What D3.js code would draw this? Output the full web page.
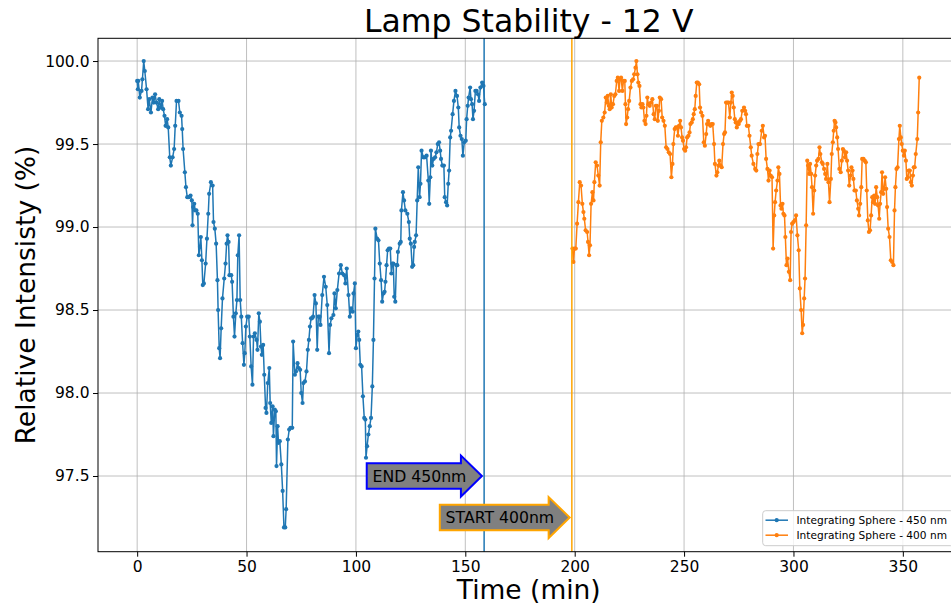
<!DOCTYPE html>
<html>
<head>
<meta charset="utf-8">
<script src="https://cdn.jsdelivr.net/npm/d3@7"></script>
<style>
  html, body { margin: 0; padding: 0; background: #fff; overflow: hidden; }
  svg { display: block; font-family: "DejaVu Sans", sans-serif; }
</style>
</head>
<body>
<svg id="chart" width="951" height="605"></svg>
<script>
// Integrating sphere, 450 nm run: time (min) and relative intensity (%)
const blueTime = [0.0,0.3,0.5,1.2,2.0,2.4,3.0,3.5,4.3,5.0,5.5,6.3,7.0,7.6,8.2,8.8,9.6,10.1,10.7,11.4,11.9,12.5,13.0,13.7,14.2,14.9,15.4,16.2,16.9,17.4,18.0,18.9,19.5,20.3,20.6,21.0,21.8,22.3,22.9,23.6,24.4,25.0,25.3,25.6,26.1,26.5,27.1,27.7,28.2,28.7,29.1,29.6,30.0,30.5,31.3,31.9,32.5,32.9,33.7,34.5,34.9,35.5,36.1,36.7,37.0,37.5,37.9,38.4,39.0,39.8,40.4,40.9,41.3,41.8,42.2,43.0,43.4,44.0,44.5,45.1,45.6,46.0,46.6,47.1,47.6,48.2,48.8,49.2,49.7,50.3,51.0,51.5,52.1,52.7,53.2,53.8,54.6,55.0,55.6,56.1,56.6,57.0,57.6,58.1,58.7,59.1,59.7,60.4,60.8,61.3,61.9,62.3,62.9,63.4,63.7,64.2,64.6,65.2,65.9,66.5,67.1,67.7,68.1,68.9,69.5,70.1,70.9,71.3,72.1,72.6,73.3,73.9,74.5,75.0,75.6,76.0,76.7,77.4,78.0,78.5,79.0,79.5,79.9,80.4,81.1,81.7,82.3,82.8,83.4,83.8,84.6,85.4,86.2,86.9,87.7,88.2,88.8,89.7,90.2,90.8,91.5,92.3,93.1,93.8,94.6,95.2,95.8,96.6,97.2,97.8,98.5,98.9,99.5,100.0,100.6,101.1,101.5,102.0,102.6,103.2,103.8,104.3,104.6,105.1,105.7,106.3,106.9,107.5,108.0,108.5,108.9,109.7,110.3,110.9,111.5,112.0,112.6,113.1,113.5,114.0,114.5,115.1,115.7,116.2,116.6,117.1,117.5,118.0,118.5,118.9,119.2,120.0,120.5,120.8,121.5,122.0,122.6,123.5,124.2,124.6,125.1,125.7,126.2,126.6,126.9,127.5,128.0,128.5,129.1,129.5,130.0,130.8,131.5,132.3,133.1,133.5,134.0,134.3,134.9,135.5,136.2,136.8,137.4,138.0,138.5,138.9,139.5,140.2,140.6,141.2,141.7,142.2,142.6,143.1,143.5,144.2,144.8,145.5,146.2,146.8,147.2,147.8,148.4,148.9,149.5,150.2,150.6,151.1,151.5,152.2,152.6,153.1,153.5,154.0,154.6,155.2,155.8,156.3,156.9,157.7,158.3,158.9];
const blueIntensity = [99.88,99.83,99.88,99.78,99.82,99.89,100.00,99.94,99.83,99.71,99.77,99.69,99.78,99.75,99.80,99.75,99.71,99.77,99.72,99.76,99.71,99.67,99.61,99.65,99.60,99.42,99.37,99.42,99.47,99.61,99.76,99.76,99.69,99.67,99.59,99.47,99.33,99.24,99.18,99.18,99.19,99.16,99.01,99.12,99.14,99.10,99.10,99.08,98.83,98.88,98.94,98.80,98.65,98.66,98.78,98.93,99.08,99.20,99.27,99.25,99.03,98.99,98.90,98.68,98.50,98.27,98.21,98.39,98.57,98.69,98.78,98.90,98.95,98.91,98.71,98.71,98.67,98.46,98.34,98.48,98.56,98.83,98.95,98.56,98.46,98.30,98.17,98.24,98.40,98.46,98.46,98.34,98.16,98.05,98.34,98.36,98.32,98.26,98.48,98.43,98.28,98.23,98.29,98.11,97.91,97.88,98.06,98.15,97.94,97.82,97.92,97.74,97.90,97.89,97.56,97.80,97.70,97.71,97.57,97.41,97.19,97.19,97.30,97.72,97.78,97.79,97.79,98.31,98.11,98.13,98.18,98.15,98.14,98.00,97.94,98.06,98.07,98.13,98.26,98.32,98.40,98.45,98.45,98.46,98.59,98.54,98.26,98.46,98.46,98.41,98.59,98.70,98.64,98.53,98.24,98.41,98.45,98.47,98.60,98.51,98.62,98.72,98.77,98.72,98.71,98.66,98.75,98.59,98.46,98.51,98.49,98.60,98.66,98.27,98.35,98.37,98.32,98.17,98.16,97.98,97.85,97.84,97.61,97.68,97.75,97.80,97.85,98.04,98.32,98.69,98.99,98.93,98.92,98.78,98.68,98.55,98.60,98.61,98.67,98.77,98.86,98.87,98.87,98.72,98.78,98.78,98.58,98.55,98.77,98.77,98.85,98.90,98.91,99.10,99.21,99.16,99.10,99.08,99.03,98.93,98.90,98.76,98.77,98.88,98.91,98.95,99.16,99.36,99.18,99.26,99.46,99.42,99.42,99.43,99.28,99.14,99.30,99.46,99.37,99.41,99.42,99.45,99.50,99.51,99.46,99.41,99.37,99.37,99.18,99.15,99.13,99.26,99.34,99.54,99.58,99.68,99.76,99.82,99.79,99.72,99.60,99.55,99.53,99.43,99.51,99.52,99.65,99.73,99.78,99.84,99.77,99.74,99.65,99.70,99.82,99.82,99.80,99.76,99.84,99.87,99.85,99.74];

// Integrating sphere, 400 nm run
const orangeTime = [199.0,199.4,199.9,200.5,201.1,201.7,202.3,202.9,203.5,204.0,204.4,205.0,205.7,206.1,206.6,207.0,207.5,208.1,208.6,209.0,209.6,210.2,210.8,211.4,211.9,212.4,213.1,213.7,214.2,214.7,215.1,215.6,216.0,216.5,216.9,217.5,218.1,218.6,219.2,219.7,220.3,220.7,221.2,221.8,222.3,222.9,223.2,223.5,224.0,224.4,224.9,225.5,226.1,226.7,227.2,227.8,228.2,228.7,229.1,229.6,230.1,230.5,231.0,231.4,231.9,232.4,232.8,233.2,233.7,234.3,234.9,235.5,236.1,236.6,237.1,237.6,238.0,238.5,238.9,239.5,240.0,240.6,241.2,241.8,242.4,243.0,243.6,244.2,244.7,245.1,245.7,246.2,246.8,247.2,247.7,248.2,248.6,249.1,249.5,250.0,250.5,250.9,251.4,252.0,252.5,252.9,253.5,254.0,254.4,254.9,255.3,255.8,256.3,256.9,257.3,257.8,258.4,259.0,259.5,260.1,260.5,261.0,261.4,262.0,262.6,263.1,263.7,264.1,264.8,265.2,265.7,266.1,266.7,267.2,267.8,268.3,268.7,269.2,269.8,270.3,270.9,271.4,271.8,272.2,272.7,273.2,273.6,274.1,274.5,275.0,275.6,276.0,276.6,277.4,277.9,278.3,278.7,279.4,279.9,280.5,280.9,281.7,282.5,283.0,283.5,284.0,284.7,285.5,286.0,286.6,287.0,287.5,288.1,288.6,289.1,289.6,290.2,290.7,291.2,291.6,292.1,292.7,293.1,293.6,294.1,294.5,295.0,295.4,295.9,296.3,296.8,297.3,297.9,298.5,298.9,299.4,300.0,300.6,301.2,301.8,302.4,302.9,303.5,304.0,304.4,304.9,305.3,305.8,306.3,306.7,307.2,307.6,308.1,308.5,309.0,309.5,309.9,310.4,310.8,311.4,311.9,312.3,313.0,313.4,314.0,314.5,314.9,315.5,316.0,316.5,317.1,317.5,318.0,318.4,318.8,319.2,319.5,320.0,320.4,321.0,321.6,322.1,322.6,323.0,323.5,324.1,324.5,325.0,325.5,326.1,326.5,327.0,327.4,327.9,328.5,329.0,329.6,330.0,330.5,331.0,331.4,332.0,332.6,333.1,333.5,334.0,334.5,335.0,335.5,336.0,336.4,336.9,337.3,337.8,338.3,338.7,339.2,339.6,340.1,340.5,341.0,341.4,341.9,342.4,342.8,343.3,343.9,344.5,345.1,345.7,346.2,346.6,347.1,347.6,348.2,348.6,349.1,349.5,350.0,350.5,350.9,351.4,351.8,352.3,352.7,353.2,353.7,354.1,354.6,355.0,355.4,355.9,356.6,357.0,357.5];
const orangeIntensity = [98.87,98.79,98.87,98.87,99.02,99.15,99.27,99.25,99.14,99.09,99.05,98.98,98.97,98.91,98.83,98.89,99.14,99.21,99.16,99.27,99.39,99.37,99.31,99.25,99.51,99.64,99.66,99.69,99.78,99.75,99.79,99.73,99.71,99.80,99.72,99.74,99.79,99.80,99.88,99.90,99.82,99.89,99.90,99.82,99.88,99.88,99.74,99.62,99.66,99.71,99.76,99.84,99.88,99.89,99.92,99.96,100.00,99.92,99.87,99.85,99.74,99.72,99.74,99.72,99.64,99.62,99.67,99.78,99.74,99.73,99.75,99.77,99.68,99.65,99.73,99.73,99.64,99.70,99.78,99.77,99.66,99.64,99.61,99.48,99.47,99.45,99.44,99.30,99.38,99.50,99.59,99.60,99.60,99.55,99.61,99.64,99.60,99.54,99.52,99.47,99.46,99.48,99.54,99.55,99.57,99.62,99.63,99.65,99.68,99.71,99.79,99.87,99.87,99.86,99.72,99.69,99.67,99.51,99.49,99.56,99.62,99.64,99.62,99.61,99.62,99.62,99.50,99.38,99.31,99.33,99.37,99.40,99.37,99.36,99.50,99.56,99.57,99.75,99.75,99.75,99.66,99.75,99.81,99.79,99.72,99.65,99.63,99.60,99.63,99.62,99.64,99.65,99.70,99.72,99.70,99.68,99.61,99.61,99.55,99.48,99.43,99.38,99.35,99.34,99.44,99.50,99.50,99.58,99.61,99.54,99.55,99.41,99.35,99.28,99.34,99.31,99.30,98.87,99.07,99.15,99.22,99.28,99.36,99.32,99.13,99.11,99.14,99.08,99.07,98.94,98.77,98.81,98.73,98.68,98.97,99.02,99.03,99.04,99.07,98.95,98.86,98.63,98.50,98.36,98.41,98.57,98.69,99.01,99.40,99.37,99.32,99.38,99.32,99.24,99.08,99.22,99.31,99.37,99.40,99.41,99.48,99.44,99.39,99.38,99.35,99.32,99.29,99.38,99.27,99.15,99.29,99.44,99.51,99.58,99.64,99.63,99.60,99.54,99.47,99.35,99.33,99.40,99.47,99.46,99.42,99.45,99.40,99.34,99.25,99.31,99.36,99.34,99.29,99.22,99.22,99.16,99.11,99.07,99.14,99.24,99.41,99.41,99.40,99.39,99.22,99.04,98.97,98.98,99.07,99.18,99.15,99.19,99.14,99.24,99.18,99.13,99.05,99.14,99.21,99.33,99.20,99.23,99.30,99.23,99.12,98.99,98.94,98.80,98.79,98.77,99.10,99.24,99.35,99.36,99.53,99.61,99.54,99.50,99.46,99.43,99.46,99.40,99.29,99.30,99.34,99.34,99.27,99.25,99.31,99.36,99.36,99.44,99.53,99.69,99.90];

const seriesNames = ["Integrating Sphere - 450 nm", "Integrating Sphere - 400 nm"];
const seriesColors = ["#1f77b4", "#ff7f0e"];

// Marker lines: end of the 450 nm run and start of the 400 nm run
const markerTimes = [158.6, 198.7];
const markerColors = ["#1f77b4", "#ffa500"];
const markerLabels = ["END 450nm", "START 400nm"];
const markerLabelLevels = [97.5, 97.25];
const markerEdgeColors = ["#0000ff", "#ffa500"];

const xTicks = [0, 50, 100, 150, 200, 250, 300, 350];
const yTicks = [97.5, 98.0, 98.5, 99.0, 99.5, 100.0];

const titleText = "Lamp Stability - 12 V";
const xLabel = "Time (min)";
const yLabel = "Relative Intensisty (%)";

// ---- layout ----
const W = 951, H = 605;
const plot = { left: 98, top: 38.3, right: 959.5, bottom: 551.7 };

const svg = d3.select("#chart");

const x = d3.scaleLinear().domain([-17.9, 375.9]).range([plot.left, plot.right]);
const y = d3.scaleLinear().domain([97.044, 100.137]).range([plot.bottom, plot.top]);

const clipId = "plot-clip";
svg.append("defs").append("clipPath").attr("id", clipId)
  .append("rect")
  .attr("x", plot.left).attr("y", plot.top)
  .attr("width", plot.right - plot.left).attr("height", plot.bottom - plot.top);

// grid
const grid = svg.append("g").attr("stroke", "#b0b0b0").attr("stroke-width", 0.8);
grid.selectAll("line.vx").data(xTicks).join("line")
  .attr("x1", d => x(d)).attr("x2", d => x(d))
  .attr("y1", plot.top).attr("y2", plot.bottom);
grid.selectAll("line.hy").data(yTicks).join("line")
  .attr("x1", plot.left).attr("x2", plot.right)
  .attr("y1", d => y(d)).attr("y2", d => y(d));

// data series
const series = [
  { t: blueTime, v: blueIntensity },
  { t: orangeTime, v: orangeIntensity }
];
const line = d3.line().x(d => x(d[0])).y(d => y(d[1]));
const dataG = svg.append("g").attr("clip-path", `url(#${clipId})`);
series.forEach((s, i) => {
  const pts = s.t.map((t, k) => [t, s.v[k]]);
  const g = dataG.append("g");
  g.append("path").datum(pts)
    .attr("d", line)
    .attr("fill", "none")
    .attr("stroke", seriesColors[i])
    .attr("stroke-width", 1.5)
    .attr("stroke-linejoin", "round");
  g.selectAll("circle").data(pts).join("circle")
    .attr("cx", d => x(d[0])).attr("cy", d => y(d[1]))
    .attr("r", 2.1)
    .attr("fill", seriesColors[i]);
});

// vertical marker lines
svg.append("g").selectAll("line").data(markerTimes).join("line")
  .attr("x1", d => x(d)).attr("x2", d => x(d))
  .attr("y1", plot.top).attr("y2", plot.bottom)
  .attr("stroke", (d, i) => markerColors[i])
  .attr("stroke-width", 1.5);

// arrow-shaped labels pointing at the marker lines
const fontSize = 15.7;
const annG = svg.append("g");
markerLabels.forEach((txt, i) => {
  const g = annG.append("g");
  const text = g.append("text")
    .attr("font-size", fontSize)
    .attr("fill", "#000")
    .text(txt);
  const tw = text.node().getComputedTextLength();
  const tipX = x(markerTimes[i]) - 2.2;
  const cy = y(markerLabelLevels[i]);
  const bodyH = 25.5, headH = 41, headW = 21;
  const headStart = tipX - headW;
  const textEnd = headStart + 5.5;
  const textStart = textEnd - tw;
  const bodyLeft = textStart - 5.8;
  const pts = [
    [bodyLeft, cy - bodyH / 2],
    [headStart, cy - bodyH / 2],
    [headStart, cy - headH / 2],
    [tipX, cy],
    [headStart, cy + headH / 2],
    [headStart, cy + bodyH / 2],
    [bodyLeft, cy + bodyH / 2]
  ];
  g.insert("path", "text")
    .attr("d", "M" + pts.map(p => p.join(",")).join("L") + "Z")
    .attr("fill", "#808080")
    .attr("stroke", markerEdgeColors[i])
    .attr("stroke-width", 2)
    .attr("stroke-linejoin", "miter");
  text.attr("x", textStart).attr("y", cy).attr("dy", "0.36em");
});

// axes
const xAxis = d3.axisBottom(x).tickValues(xTicks).tickFormat(d3.format("d"))
  .tickSize(5).tickPadding(4.5);
const yAxis = d3.axisLeft(y).tickValues(yTicks).tickFormat(d3.format(".1f"))
  .tickSize(5).tickPadding(3.5);

const gx = svg.append("g").attr("transform", `translate(0,${plot.bottom})`).call(xAxis);
const gy = svg.append("g").attr("transform", `translate(${plot.left},0)`).call(yAxis);
[gx, gy].forEach(g => {
  g.select(".domain").remove();
  g.selectAll(".tick line").attr("stroke", "#000").attr("stroke-width", 1);
  g.selectAll(".tick text").attr("font-size", 15.5).attr("fill", "#000")
    .attr("font-family", "DejaVu Sans, sans-serif");
});

// frame
svg.append("rect")
  .attr("x", plot.left).attr("y", plot.top)
  .attr("width", plot.right - plot.left).attr("height", plot.bottom - plot.top)
  .attr("fill", "none").attr("stroke", "#000").attr("stroke-width", 1);

// legend
const lg = svg.append("g");
const lgX = 762.7, lgY = 510.7, lgW = 191, lgH = 35;
lg.append("rect")
  .attr("x", lgX).attr("y", lgY).attr("width", lgW).attr("height", lgH)
  .attr("rx", 3).attr("ry", 3)
  .attr("fill", "#fff").attr("fill-opacity", 0.8)
  .attr("stroke", "#cccccc").attr("stroke-width", 1);
seriesNames.forEach((name, i) => {
  const ly = 520.2 + i * 15;
  lg.append("line")
    .attr("x1", 765.5).attr("x2", 788).attr("y1", ly).attr("y2", ly)
    .attr("stroke", seriesColors[i]).attr("stroke-width", 1.5);
  lg.append("circle").attr("cx", 776.7).attr("cy", ly).attr("r", 2.1)
    .attr("fill", seriesColors[i]);
  lg.append("text").attr("x", 796.5).attr("y", ly).attr("dy", "0.35em")
    .attr("font-size", 10.6).attr("fill", "#000").text(name);
});

// titles
svg.append("text")
  .attr("x", (plot.left + plot.right) / 2).attr("y", 32)
  .attr("text-anchor", "middle").attr("font-size", 31.5).attr("fill", "#000")
  .text(titleText);
svg.append("text")
  .attr("x", (plot.left + plot.right) / 2).attr("y", 599)
  .attr("text-anchor", "middle").attr("font-size", 26.5).attr("fill", "#000")
  .text(xLabel);
svg.append("text")
  .attr("transform", `translate(35,${(plot.top + plot.bottom) / 2}) rotate(-90)`)
  .attr("text-anchor", "middle").attr("font-size", 26.5).attr("fill", "#000")
  .text(yLabel);
</script>
</body>
</html>
